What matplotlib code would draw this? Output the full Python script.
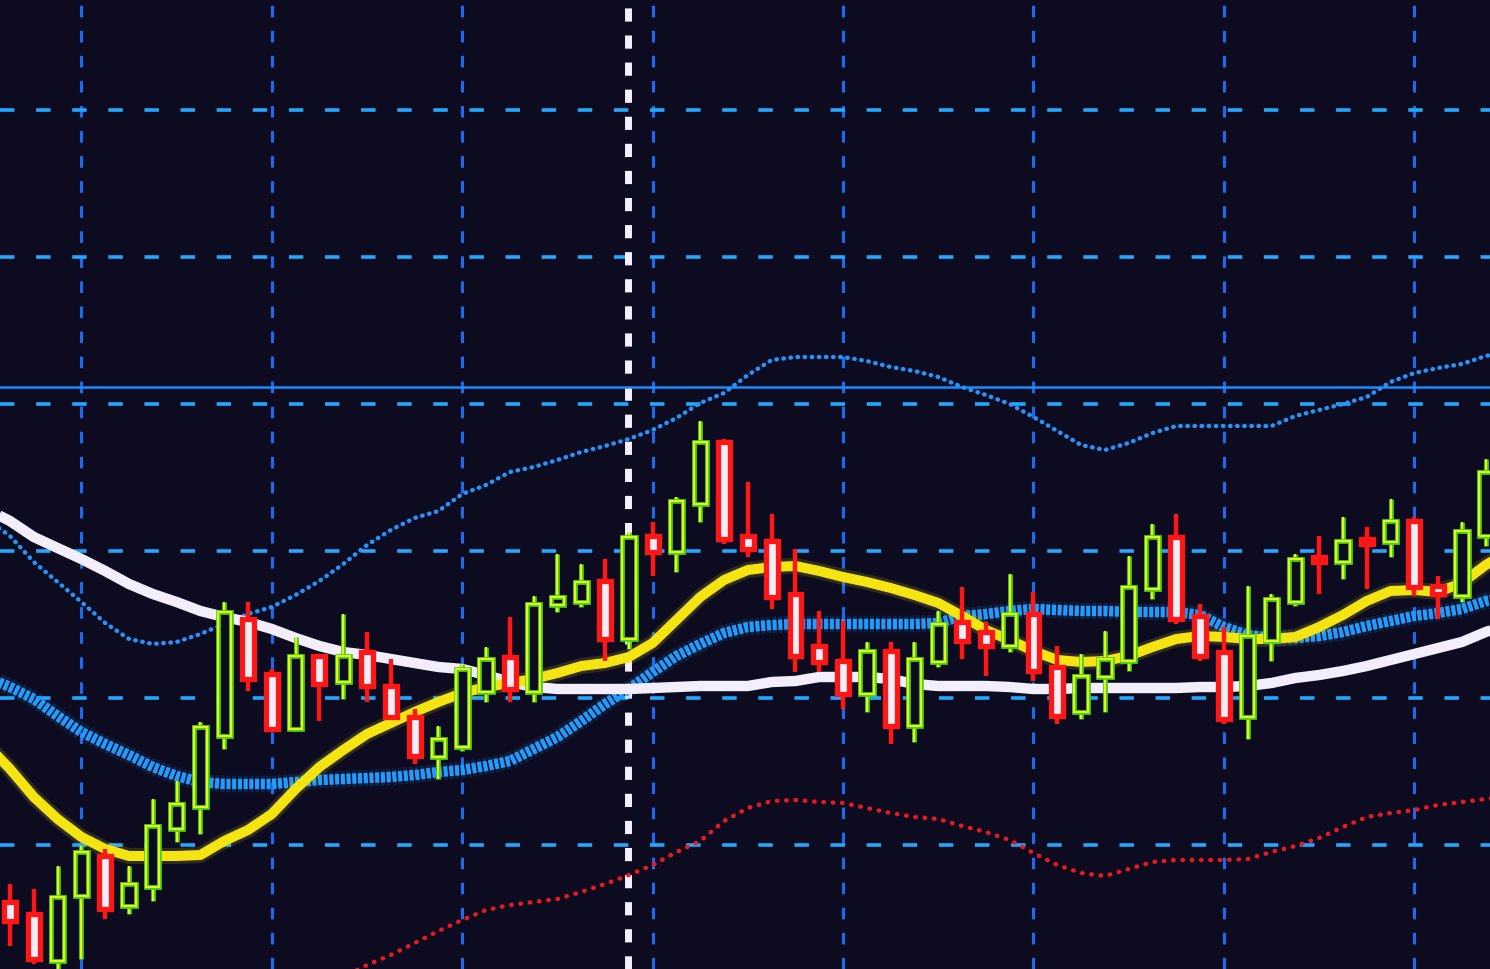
import matplotlib
matplotlib.use("Agg")
import matplotlib.pyplot as plt
import matplotlib.patheffects as pe
import numpy as np

BG = "#0d0b1f"

# candles (price in screen units, 0 = bottom edge of the chart)
opens = [67, 55, 8, 73, 113, 63, 82, 140, 162, 233, 350, 295, 240, 313, 287, 317, 283, 252, 212, 222,
         277, 312, 277, 364, 367, 388, 330, 433, 417, 465, 527, 433, 428, 375, 323, 308, 275, 318, 243, 307,
         347, 337, 323, 355, 302, 257, 292, 308, 380, 432, 353, 317, 252, 328, 367, 412, 407, 430, 427, 448,
         383, 373, 433]
highs = [85, 80, 103, 123, 120, 103, 170, 188, 247, 367, 367, 300, 332, 315, 355, 337, 310, 260, 243, 305,
         322, 352, 373, 415, 405, 410, 437, 447, 472, 548, 530, 487, 455, 420, 358, 348, 327, 327, 327, 358,
         382, 347, 395, 377, 323, 315, 338, 413, 445, 455, 365, 342, 383, 375, 415, 433, 452, 442, 470, 452,
         393, 447, 510]
lows = [23, 5, -5, 10, 50, 55, 68, 127, 135, 220, 278, 238, 238, 248, 270, 267, 250, 205, 190, 218,
        267, 267, 267, 357, 362, 308, 320, 393, 397, 447, 425, 412, 360, 297, 297, 260, 257, 225, 227, 302,
        310, 293, 317, 288, 245, 250, 257, 298, 370, 345, 308, 245, 230, 308, 363, 375, 390, 380, 412, 373,
        350, 367, 423]
closes = [48, 10, 72, 117, 60, 85, 143, 165, 242, 357, 290, 240, 313, 285, 313, 283, 252, 213, 230, 300,
          310, 280, 365, 372, 387, 330, 432, 417, 468, 527, 430, 420, 372, 313, 307, 275, 318, 243, 310, 345,
          328, 323, 355, 298, 253, 293, 310, 382, 432, 350, 313, 250, 333, 370, 410, 407, 428, 425, 448, 382,
          375, 438, 497]

# indicator lines, bar -1 .. 63
ma_white = [460, 448, 432, 421, 410, 398, 385, 375, 367, 358, 352, 347, 340, 331, 323, 317, 314, 310, 306, 302,
            300, 294, 287, 282, 280, 280, 280, 280, 281, 282, 283, 283, 283, 287, 288, 292, 292, 292, 290, 285,
            283, 283, 283, 282, 280, 280, 281, 281, 281, 281, 281, 282, 282, 283, 286, 291, 294, 298, 303, 309,
            315, 321, 327, 337, 345]
ma_yellow = [225, 200, 172, 150, 132, 120, 113, 113, 113, 114, 128, 139, 155, 180, 202, 219, 235, 246, 257, 267,
             276, 282, 286, 290, 296, 303, 306, 312, 326, 349, 372, 389, 399, 402, 403, 398, 392, 387, 381, 374,
             366, 353, 339, 329, 318, 309, 307, 308, 313, 322, 330, 333, 332, 330, 330, 332, 342, 354, 368, 378,
             379, 377, 386, 404, 418]
ma_blue = [292, 282, 270, 253, 237, 225, 214, 202, 193, 187, 185, 185, 185, 187, 189, 190, 191, 192, 194, 197,
           199, 203, 208, 220, 232, 248, 265, 280, 297, 313, 325, 336, 342, 344, 345, 345, 345, 345, 345, 345,
           346, 353, 355, 358, 360, 359, 358, 358, 357, 357, 357, 354, 342, 334, 331, 331, 333, 337, 343, 348,
           353, 356, 360, 368, 372]
upper_band = [450, 433, 407, 387, 367, 346, 330, 325, 327, 335, 345, 355, 362, 374, 388, 405, 424, 439, 451, 458,
              475, 484, 497, 502, 509, 517, 523, 530, 539, 551, 566, 576, 594, 609, 612, 612, 612, 608, 602, 598,
              592, 582, 574, 565, 552, 538, 524, 519, 526, 536, 543, 543, 543, 543, 543, 553, 559, 565, 572, 587,
              596, 601, 605, 613, 618]
# lower band, bar 14 .. 63
lower_band = [-8, 4, 14, 26, 38, 49, 59, 64, 67, 70, 77, 85, 94, 104, 117, 128, 148, 161, 168, 169,
              167, 166, 161, 156, 152, 150, 143, 137, 129, 116, 104, 96, 93, 100, 107, 109, 109, 109, 110, 117,
              123, 131, 142, 152, 156, 159, 164, 167, 170, 173]

level = 582
grid_cols = [3, 11, 19, 27, 35, 43, 51, 59]
grid_rows = [124, 271, 418, 565, 712, 859]
separator = 25.95

o = np.array(opens)
h = np.array(highs)
l = np.array(lows)
c = np.array(closes)
idx = np.arange(len(o))
ma_x = np.arange(-1, 64)
low_x = np.arange(14, 64)

fig = plt.figure(figsize=(14.9, 9.7), dpi=100, facecolor=BG)
ax = fig.add_axes([0, 0, 1, 1], facecolor=BG)
ax.set_xlim(-0.42, 62.18)
ax.set_ylim(0, 970)
for s in ax.spines.values():
    s.set_visible(False)
ax.tick_params(length=0, labelbottom=False, labelleft=False)
ax.set_xticks(grid_cols)
ax.set_yticks(grid_rows)
ax.set_axisbelow(True)
ax.xaxis.grid(True, color="#1b6af0", lw=2.2, linestyle=(0, (3.8, 4.4)))
ax.yaxis.grid(True, color="#22a8ff", lw=2.6, linestyle=(0, (4.0, 6.0)))

ax.axvline(separator, color="#f5f0ff", lw=5, linestyle=(0, (1.9, 2.0)), zorder=1)
ax.axhline(level, color="#1a8cff", lw=1.8, zorder=1.2)


def glow(lw, color):
    return [pe.Stroke(linewidth=lw * 1.6, foreground=color, alpha=0.15), pe.Normal()]


ax.plot(low_x, lower_band, color="#f01820", lw=3.2, linestyle=(0, (0.1, 2.0)),
        dash_capstyle="round", zorder=2)
ax.plot(ma_x, upper_band, color="#2296ff", lw=3.2, linestyle=(0, (0.1, 1.5)),
        dash_capstyle="round", zorder=2)
ax.plot(ma_x, ma_blue, color="#1f9cff", lw=7.5, linestyle=(0, (0.4, 0.15)), zorder=3,
        path_effects=glow(7.5, "#1f9cff"))
ax.plot(ma_x, ma_white, color="#f3eefb", lw=7.5, zorder=4, solid_capstyle="butt")
ax.plot(ma_x, ma_yellow, color="#f4e412", lw=7.2, zorder=5,
        path_effects=glow(7.2, "#f4e412"))

up = c >= o
dn = ~up

# rising candles: hollow, green/yellow outline
ax.vlines(idx[up], l[up], h[up], color="#46d21e", lw=3.4, zorder=6)
ax.vlines(idx[up], l[up], h[up], color="#e6f21a", lw=1.5, zorder=6.1)
ax.bar(idx[up], c[up] - o[up], bottom=o[up], width=0.56, color=BG,
       edgecolor="#46d21e", lw=3.4, zorder=7)
ax.bar(idx[up], c[up] - o[up], bottom=o[up], width=0.56, color="none",
       edgecolor="#e6f21a", lw=1.5, zorder=7.1)

# falling candles: white body, red outline
ax.vlines(idx[dn], l[dn], h[dn], color="#ff1616", lw=3.2, zorder=6)
ax.bar(idx[dn], o[dn] - c[dn], bottom=c[dn], width=0.5, color="#f6ecf6",
       edgecolor="#ff1616", lw=3.8, zorder=7)

fig.savefig("out.png", dpi=100, facecolor=BG)
